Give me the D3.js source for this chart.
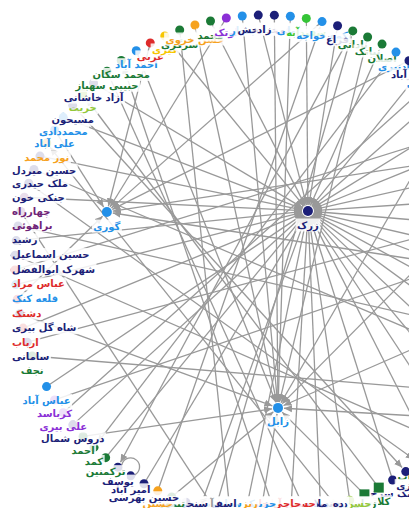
<!DOCTYPE html>
<html>
<head>
<meta charset="utf-8">
<script src="https://cdn.jsdelivr.net/npm/d3@7/dist/d3.min.js"></script>
<style>
body { margin: 0; background: #fff; overflow: hidden; }
svg { display: block; }
.link { stroke: #999; stroke-width: 1.3; fill: none; }
.label { font-family: "DejaVu Sans", sans-serif; font-size: 10px; font-weight: bold; }
</style>
</head>
<body>
<div class="canvas"></div>
<script>
// villages on the ring, clockwise from the bottom right
const ringNames = [
  'تنگ سرخ', 'کلاته', 'زمان', 'حسن ملا', 'ده نو', 'ده دوست', 'ملا جمال', 'حسین آباد',
  'حاجی خان', 'جزینک', 'ریزی', 'سیاه', 'اسفرآباد', 'آبگرم', 'سنجرانی', 'تیمور',
  'حسین', 'حسین بهرسی', 'امیر آباد', 'یوسف', 'ترکمنین', 'کمد', 'احمد', 'دروس شمال',
  'علی بیری', 'کرباسد', 'عباس آباد', 'نجف', 'سامانی', 'ارباب', 'شاه گل بیری', 'دشتک',
  'قلعه کنک', 'عباس مراد', 'شهرک ابوالفضل', 'حسین اسماعیل', 'رشید', 'براهوئی', 'چهارراه', 'جنکی خون',
  'ملک حیدری', 'حسین میردل', 'نور محمد', 'علی آباد', 'محمددادی', 'مسیحون', 'حریت', 'آزاد خاشانی',
  'حبیبی سهباز', 'محمد سکان', 'احمد آباد', 'عربی', 'گیری', 'سرگری', 'حسن خروی', 'محمد',
  'لوتک', 'بنجار', 'خدابخش', 'قی زاد', 'خولی', 'سفیدآبه', 'کوه خواجه', 'فراغ',
  'بادانی', 'نیاتک', 'اصلان', 'بادنیری', 'شیرآباد', 'ادیمی', 'قرقری', 'جهان آباد',
  'دوست محمد', 'محمدآباد', 'کنگ', 'سکوهه', 'میلک', 'بنجار شرقی', 'قائم آباد', 'لطف آباد',
  'ده پیرک', 'جزینک سفلی', 'خمک', 'قلعه نو', 'کرم آباد', 'ده مرده', 'ملکی', 'چلنگ',
  'حیدرآباد', 'گرگ', 'سیستانک', 'مارگان', 'شهرکی', 'ده سرحد', 'کشکی', 'آدیمی',
  'ورمال', 'اکبرآباد', 'پشت آب', 'بزی'
];
const ringGroups = [
  'navy', 'green', 'green', 'lime', 'navy', 'navy', 'navy', 'red',
  'red', 'blue', 'orange', 'blue', 'navy', 'gray', 'navy', 'green',
  'orange', 'navy', 'navy', 'navy', 'green', 'green', 'green', 'navy',
  'purple', 'purple', 'blue', 'green', 'navy', 'red', 'navy', 'red',
  'blue', 'red', 'navy', 'navy', 'navy', 'plum', 'plum', 'navy',
  'navy', 'navy', 'orange', 'blue', 'blue', 'navy', 'lime', 'navy',
  'green', 'green', 'blue', 'red', 'yellow', 'green', 'orange', 'green',
  'purple', 'blue', 'navy', 'navy', 'blue', 'bright', 'blue', 'navy',
  'green', 'green', 'green', 'blue', 'navy', 'blue', 'green', 'navy',
  'red', 'blue', 'navy', 'green', 'orange', 'navy', 'blue', 'navy',
  'green', 'navy', 'red', 'blue', 'navy', 'navy', 'green', 'blue',
  'navy', 'orange', 'navy', 'green', 'blue', 'navy', 'red', 'navy',
  'blue', 'navy', 'green', 'navy'
];
const squareNodes = ['کلاته', 'زمان'];

// hub villages pulled inside the ring: angle (deg) and share of ring radius
const hubNames = ['زرک', 'زابل', 'گوری'];
const hubGroups = ['navy', 'blue', 'blue'];
const hubAngles = [308.5, 84.8, 198.5];
const hubShares = [0.276, 0.574, 0.667];

// ring index -> angle, anchors
const angleIndex = [0, 3, 16, 26, 27, 42, 47, 50, 67, 100];
const angleDegrees = [59.3, 70.2, 115.4, 150.9, 158.65, 209.2, 226.7, 239.0, 301.6, 419.3];

const groupKeys = ['navy', 'blue', 'green', 'lime', 'bright', 'orange', 'red', 'purple', 'plum', 'yellow', 'gray'];
const groupColors = ['#1c1f78', '#2390e8', '#1b7a36', '#93c83a', '#35c437', '#f6a21e', '#de2b2b', '#8b2fd6', '#6f2377', '#f7c600', '#9a9a9a'];

// directed links, source -> target
const links = [
  ['تنگ سرخ', 'زرک'], ['حسن ملا', 'زرک'], ['ده دوست', 'زرک'], ['حسین آباد', 'زرک'], ['ریزی', 'زرک'],
  ['آبگرم', 'زرک'], ['حسین بهرسی', 'زرک'], ['ترکمنین', 'زرک'], ['دروس شمال', 'زرک'], ['عباس آباد', 'زرک'],
  ['ارباب', 'زرک'], ['قلعه کنک', 'زرک'], ['حسین اسماعیل', 'زرک'], ['چهارراه', 'زرک'], ['حسین میردل', 'زرک'],
  ['محمددادی', 'زرک'], ['آزاد خاشانی', 'زرک'], ['گیری', 'زرک'], ['محمد', 'زرک'], ['خدابخش', 'زرک'],
  ['سفیدآبه', 'زرک'], ['فراغ', 'زرک'], ['اصلان', 'زرک'], ['ادیمی', 'زرک'], ['جهان آباد', 'زرک'],
  ['محمدآباد', 'زرک'], ['سکوهه', 'زرک'], ['بنجار شرقی', 'زرک'], ['لطف آباد', 'زرک'], ['جزینک سفلی', 'زرک'],
  ['قلعه نو', 'زرک'], ['ده مرده', 'زرک'], ['چلنگ', 'زرک'], ['گرگ', 'زرک'], ['مارگان', 'زرک'],
  ['ده سرحد', 'زرک'], ['آدیمی', 'زرک'], ['اکبرآباد', 'زرک'],
  ['زمان', 'زابل'], ['جزینک', 'زابل'], ['تیمور', 'زابل'], ['احمد', 'زابل'], ['شاه گل بیری', 'زابل'],
  ['احمد آباد', 'زابل'], ['حسن خروی', 'زابل'], ['بنجار', 'زابل'], ['خولی', 'زابل'], ['قی زاد', 'زابل'],
  ['نیاتک', 'زابل'], ['دوست محمد', 'زابل'], ['قائم آباد', 'زابل'], ['ملکی', 'زابل'], ['کشکی', 'زابل'],
  ['علی آباد', 'گوری'], ['عربی', 'گوری'], ['لوتک', 'گوری'], ['کوه خواجه', 'گوری'], ['شیرآباد', 'گوری'],
  ['میلک', 'گوری'], ['کرم آباد', 'گوری'], ['دشتک', 'گوری'],
  ['علی بیری', 'قرقری'], ['سامانی', 'ده پیرک'], ['عباس مراد', 'کنگ'], ['رشید', 'حیدرآباد'],
  ['ملک حیدری', 'سیستانک'], ['مسیحون', 'بزی'], ['حبیبی سهباز', 'ملا جمال'], ['سرگری', 'سیاه'],
  ['براهوئی', 'اسفرآباد'], ['بادانی', 'یوسف'], ['بادنیری', 'کمد'], ['کلاته', 'حریت'], ['ده نو', 'نور محمد'],
  ['حاجی خان', 'محمد سکان'], ['اسفرآباد', 'بادانی'], ['کرباسد', 'خمک'], ['نجف', 'شهرکی'],
  ['شهرک ابوالفضل', 'ورمال'], ['جنکی خون', 'پشت آب'], ['حسین', 'کوه خواجه'], ['امیر آباد', 'امیر آباد']
];

const width = 409, height = 508;
const cx = 265, cy = 265, ringRadius = 250;
const labelFloor = 503, labelMargin = 12;

const angle = d3.scaleLinear().domain(angleIndex).range(angleDegrees);
const radius = d3.scaleLinear().domain([0, 1]).range([0, ringRadius]);
const color = d3.scaleOrdinal().domain(groupKeys).range(groupColors);

const polar = (deg, r) => {
  const a = deg * Math.PI / 180;
  return [cx + r * Math.cos(a), cy + r * Math.sin(a)];
};

const nodes = [];
ringNames.forEach((name, i) => {
  const [x, y] = polar(angle(i), radius(1));
  nodes.push({ name, group: ringGroups[i], x, y, r: 4.5 });
});
hubNames.forEach((name, i) => {
  const [x, y] = polar(hubAngles[i], radius(hubShares[i]));
  nodes.push({ name, group: hubGroups[i], x, y, r: 5 });
});
const byName = new Map(nodes.map(d => [d.name, d]));

const svg = d3.select('.canvas').append('svg')
  .attr('width', width)
  .attr('height', height);

svg.append('defs').append('marker')
  .attr('id', 'arrow')
  .attr('viewBox', '0 -4 8 8')
  .attr('refX', 8)
  .attr('refY', 0)
  .attr('markerUnits', 'userSpaceOnUse')
  .attr('markerWidth', 8)
  .attr('markerHeight', 8)
  .attr('orient', 'auto')
  .append('path')
  .attr('d', 'M0,-3.5L8,0L0,3.5Z')
  .attr('fill', '#999');

const linkData = links.map(([s, t]) => ({ source: byName.get(s), target: byName.get(t) }));

// straight links, cut at the target's rim
svg.append('g').selectAll('path')
  .data(linkData.filter(d => d.source !== d.target))
  .enter().append('path')
  .attr('class', 'link')
  .attr('marker-end', 'url(#arrow)')
  .attr('d', d => {
    const dx = d.target.x - d.source.x, dy = d.target.y - d.source.y;
    const len = Math.hypot(dx, dy);
    const k = (len - d.target.r - 1) / len;
    return `M${d.source.x},${d.source.y}L${d.source.x + dx * k},${d.source.y + dy * k}`;
  });

// self loops
svg.append('g').selectAll('path')
  .data(linkData.filter(d => d.source === d.target))
  .enter().append('path')
  .attr('class', 'link')
  .attr('d', d => {
    const x = d.source.x, y = d.source.y;
    return `M${x},${y}A9,9 0 1,1 ${x + 4},${y - 1}`;
  });

// one group per node: mark, then its label on a pale box
const node = svg.append('g').selectAll('g')
  .data(nodes)
  .enter().append('g');

node.filter(d => !squareNodes.includes(d.name))
  .append('circle')
  .attr('cx', d => d.x)
  .attr('cy', d => d.y)
  .attr('r', d => d.r)
  .attr('fill', d => color(d.group));

node.filter(d => squareNodes.includes(d.name))
  .append('rect')
  .attr('x', d => d.x - 5)
  .attr('y', d => d.y - 5)
  .attr('width', 10)
  .attr('height', 10)
  .attr('fill', d => color(d.group));

const box = node.append('rect')
  .attr('fill', '#fff')
  .attr('fill-opacity', 0.85);

const labels = node.append('text')
  .attr('class', 'label')
  .attr('direction', 'rtl')
  .attr('text-anchor', 'middle')
  .attr('dy', '0.35em')
  .attr('fill', d => color(d.group))
  .text(d => d.name);

labels.each(function(d) {
  const w = this.getComputedTextLength();
  d.lx = Math.max(d.x, w / 2 + labelMargin);
  d.ly = Math.min(d.y + 14, labelFloor);
  d.lw = w;
  d3.select(this).attr('x', d.lx).attr('y', d.ly);
});

box.attr('x', d => d.lx - d.lw / 2 - 1.5)
  .attr('y', d => d.ly - 6.5)
  .attr('width', d => d.lw + 3)
  .attr('height', 13);
</script>
</body>
</html>
